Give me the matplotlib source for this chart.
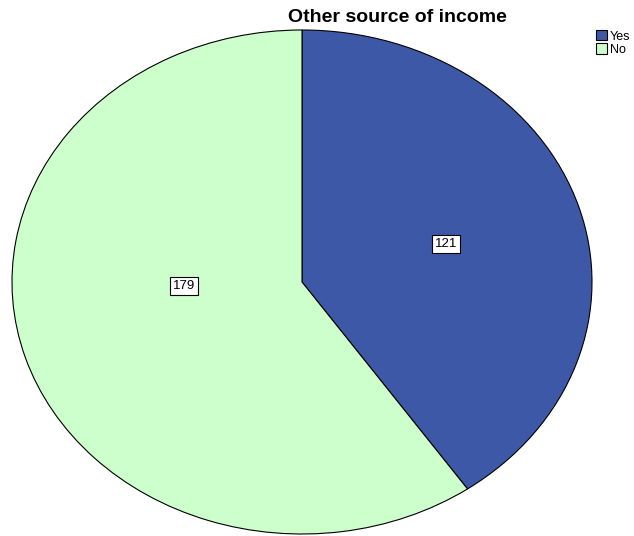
import matplotlib.pyplot as plt
import numpy as np

# data
categories = ['Yes', 'No']
counts = [121, 179]
colors = ['#3e58a8', '#ccffcc']

plt.rcParams['font.family'] = ['Liberation Sans', 'DejaVu Sans']

fig = plt.figure(figsize=(6.34, 5.36), dpi=100)
W, H = 634, 536
# pie is stretched into an ellipse, like the SPSS output
ax = fig.add_axes([12 / W, 2 / H, 580 / W, 504 / H])
wedges, _ = ax.pie(counts, colors=colors, startangle=90, counterclock=False,
                   wedgeprops=dict(edgecolor='black', linewidth=0.8))
ax.set_aspect('auto')
ax.set_xlim(-1, 1)
ax.set_ylim(-1, 1)
ax.axis('off')

# value labels (boxed)
label_pos = [(0.497, 0.151), (-0.407, -0.016)]
for (x, y), c in zip(label_pos, counts):
    ax.text(x, y, str(c), ha='center', va='center', fontsize=9.5,
            bbox=dict(boxstyle='square,pad=0.2', fc='white', ec='black', lw=0.8))

fig.text(397 / W, 1 - 18 / H, 'Other source of income', ha='center', va='center',
         fontsize=14, fontweight='bold')

fig.legend(wedges, categories, loc='upper left', bbox_to_anchor=(596 / W, 1 - 30 / H),
           frameon=False, fontsize=9, handlelength=0.9, handleheight=0.9,
           handletextpad=0.2, labelspacing=0.05, borderpad=0, borderaxespad=0)

plt.savefig('out.png', dpi=100)
